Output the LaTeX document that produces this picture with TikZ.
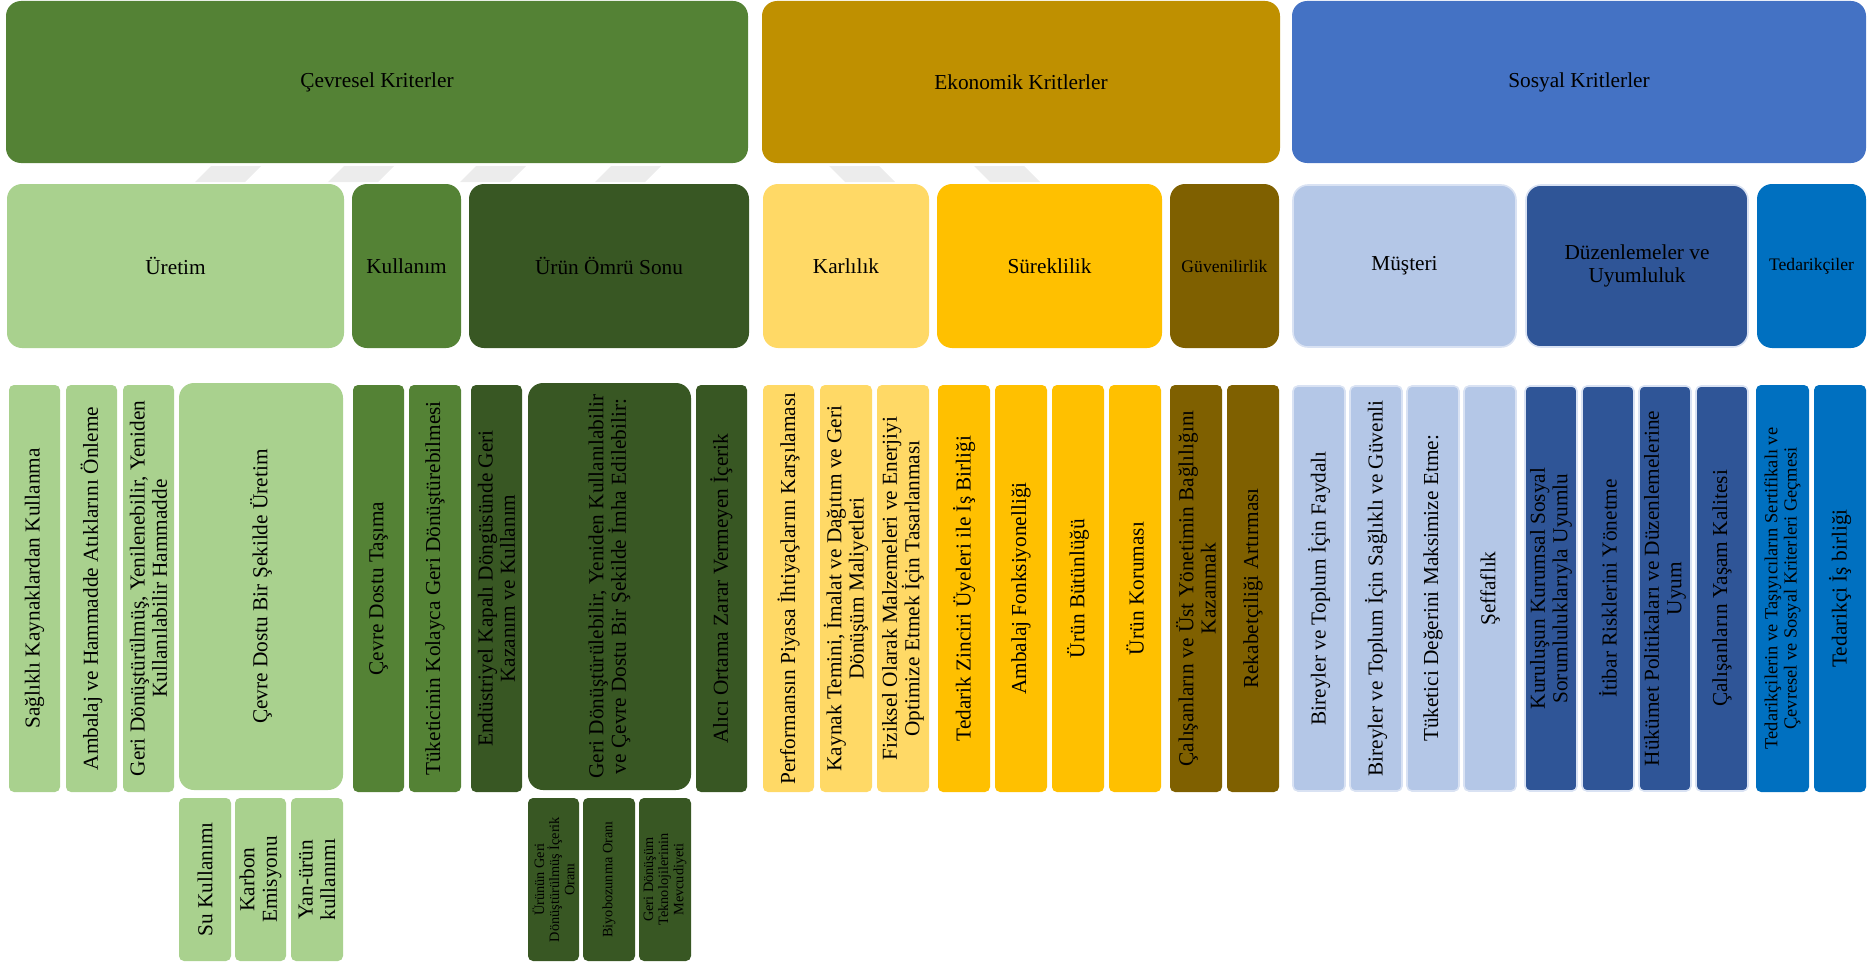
\documentclass[tikz,border=0pt]{standalone}
\usepackage{fontspec}
\setmainfont{Liberation Serif}

% palette
\definecolor{gMid}{HTML}{548235}
\definecolor{gLight}{HTML}{A9D18E}
\definecolor{gDark}{HTML}{385723}
\definecolor{yTop}{HTML}{BF9000}
\definecolor{yLight}{HTML}{FFD966}
\definecolor{yMid}{HTML}{FFC000}
\definecolor{yDark}{HTML}{7F6000}
\definecolor{bTop}{HTML}{4472C4}
\definecolor{bLight}{HTML}{B4C7E7}
\definecolor{bDark}{HTML}{2F5597}
\definecolor{bMid}{HTML}{0070C0}
\definecolor{bEdge}{HTML}{D9E2F3}
\definecolor{wmGray}{HTML}{ECECEC}

\tikzset{
  box/.style={rectangle, inner sep=0pt, outer sep=0pt},
  bigbox/.style={box, rounded corners=15pt},
  colbox/.style={box, rounded corners=5pt},
  edged/.style={draw=bEdge, line width=1.6pt},
  lbl/.style={inner sep=0pt, align=center, text=black,
              font={\fontsize{21.3}{22.4}\selectfont}},
  vlbl/.style={lbl, rotate=90},
  midlbl/.style={lbl, font={\fontsize{17.6}{19}\selectfont}},
  vmidlbl/.style={lbl, rotate=90, font={\fontsize{18.4}{19.4}\selectfont}},
  vsmall/.style={lbl, rotate=90, font={\fontsize{14.3}{15.2}\selectfont}},
  wm/.style={fill=wmGray},
}

% name, x1, y1, x2, y2, box style, label style, text
\newcommand\blk[8]{%
  \node[#6, minimum width={(#4)-(#2)}, minimum height={(#5)-(#3)}]
    (#1) at ({((#2)+(#4))/2},{((#3)+(#5))/2}) {};
  \node[#7] (#1-t) at (#1.center) {#8};
}

\begin{document}
\begin{tikzpicture}[x=1pt, y=-1pt]
\useasboundingbox (0,0) rectangle (1868,963);

% faint background stripes seen between the first two rows
\fill[wm] (195,182) -- (245,182) -- (261,166) -- (211,166) -- cycle;
\fill[wm] (328,182) -- (378,182) -- (394,166) -- (344,166) -- cycle;
\fill[wm] (460,182) -- (510,182) -- (526,166) -- (476,166) -- cycle;
\fill[wm] (595,182) -- (645,182) -- (661,166) -- (611,166) -- cycle;
\fill[wm] (829,166) -- (879,166) -- (895,182) -- (845,182) -- cycle;
\fill[wm] (974,166) -- (1024,166) -- (1040,182) -- (990,182) -- cycle;

% ---------- top level ----------
\blk{cev}{6}{1}{748}{163}{bigbox, fill=gMid}{lbl}{Çevresel Kriterler}
\blk{eko}{762}{1}{1280}{163}{bigbox, fill=yTop}{lbl}{Ekonomik Kritlerler}
\blk{sos}{1292}{1}{1866}{163}{bigbox, fill=bTop}{lbl}{Sosyal Kritlerler}

% ---------- second level ----------
\blk{uret}{7}{184}{344}{348}{bigbox, fill=gLight}{lbl}{Üretim}
\blk{kull}{352}{184}{461}{348}{bigbox, fill=gMid}{lbl}{Kullanım}
\blk{omur}{469}{184}{749}{348}{bigbox, fill=gDark}{lbl}{Ürün Ömrü Sonu}
\blk{karl}{763}{184}{929}{348}{bigbox, fill=yLight}{lbl}{Karlılık}
\blk{surek}{937}{184}{1162}{348}{bigbox, fill=yMid}{lbl}{Süreklilik}
\blk{guven}{1170}{184}{1279}{348}{bigbox, fill=yDark}{midlbl}{Güvenilirlik}
\blk{must}{1293}{185}{1516}{347}{bigbox, fill=bLight, edged}{lbl}{Müşteri}
\blk{duzen}{1526}{185}{1748}{347}{bigbox, fill=bDark, edged}{lbl}{Düzenlemeler ve\\Uyumluluk}
\blk{tedar}{1757}{184}{1866}{348}{bigbox, fill=bMid}{midlbl}{Tedarikçiler}

% ---------- third level: environmental ----------
\blk{c1}{9}{385}{60}{792}{colbox, fill=gLight}{vlbl}{Sağlıklı Kaynaklardan Kullanma}
\blk{c2}{66}{385}{117}{792}{colbox, fill=gLight}{vlbl}{Ambalaj ve Hammadde Atıklarını Önleme}
\blk{c3}{123}{385}{174}{792}{colbox, fill=gLight}{vlbl}{Geri Dönüştürülmüş, Yenilenebilir, Yeniden\\Kullanılabilir Hammadde}
\blk{c4}{179}{383}{343}{790}{bigbox, fill=gLight}{vlbl}{Çevre Dostu Bir Şekilde Üretim}
\blk{c5}{353}{385}{404}{792}{colbox, fill=gMid}{vlbl}{Çevre Dostu Taşıma}
\blk{c6}{409}{385}{461}{792}{colbox, fill=gMid}{vlbl}{Tüketicinin Kolayca Geri Dönüştürebilmesi}
\blk{c7}{471}{385}{522}{792}{colbox, fill=gDark}{vlbl}{Endüstriyel Kapalı Döngüsünde Geri\\Kazanım ve Kullanım}
\blk{c8}{528}{383}{691}{790}{bigbox, fill=gDark}{vlbl}{Geri Dönüştürülebilir, Yeniden Kullanılabilir\\ve Çevre Dostu Bir Şekilde İmha Edilebilir:}
\blk{c9}{696}{385}{747}{792}{colbox, fill=gDark}{vlbl}{Alıcı Ortama Zarar Vermeyen İçerik}

% fourth level
\blk{s1}{179}{798}{231}{961}{colbox, fill=gLight}{vlbl}{Su Kullanımı}
\blk{s2}{235}{798}{286}{961}{colbox, fill=gLight}{vlbl}{Karbon\\Emisyonu}
\blk{s3}{291}{798}{343}{961}{colbox, fill=gLight}{vlbl}{Yan-ürün\\kullanımı}
\blk{s4}{528}{798}{579}{961}{colbox, fill=gDark}{vsmall}{Ürünün Geri\\Dönüştürülmüş İçerik\\Oranı}
\blk{s5}{583}{798}{635}{961}{colbox, fill=gDark}{vsmall}{Biyobozunma Oranı}
\blk{s6}{639}{798}{691}{961}{colbox, fill=gDark}{vsmall}{Geri Dönüşüm\\Teknolojilerinin\\Mevcudiyeti}

% ---------- third level: economic ----------
\blk{e1}{763}{385}{814}{792}{colbox, fill=yLight}{vlbl}{Performansın Piyasa İhtiyaçlarını Karşılaması}
\blk{e2}{820}{385}{872}{792}{colbox, fill=yLight}{vlbl}{Kaynak Temini, İmalat ve Dağıtım ve Geri\\Dönüşüm Maliyetleri}
\blk{e3}{877}{385}{929}{792}{colbox, fill=yLight}{vlbl}{Fiziksel Olarak Malzemeleri ve Enerjiyi\\Optimize Etmek İçin Tasarlanması}
\blk{e4}{938}{385}{990}{792}{colbox, fill=yMid}{vlbl}{Tedarik Zinciri Üyeleri ile İş Birliği}
\blk{e5}{995}{385}{1047}{792}{colbox, fill=yMid}{vlbl}{Ambalaj Fonksiyonelliği}
\blk{e6}{1052}{385}{1104}{792}{colbox, fill=yMid}{vlbl}{Ürün Bütünlüğü}
\blk{e7}{1109}{385}{1161}{792}{colbox, fill=yMid}{vlbl}{Ürün Koruması}
\blk{e8}{1170}{385}{1222}{792}{colbox, fill=yDark}{vlbl}{Çalışanların ve Üst Yönetimin Bağlılığını\\Kazanmak}
\blk{e9}{1227}{385}{1279}{792}{colbox, fill=yDark}{vlbl}{Rekabetçiliği Artırması}

% ---------- third level: social ----------
\blk{o1}{1293}{386}{1345}{791}{colbox, fill=bLight, edged}{vlbl}{Bireyler ve Toplum İçin Faydalı}
\blk{o2}{1350}{386}{1402}{791}{colbox, fill=bLight, edged}{vlbl}{Bireyler ve Toplum İçin Sağlıklı ve Güvenli}
\blk{o3}{1407}{386}{1459}{791}{colbox, fill=bLight, edged}{vlbl}{Tüketici Değerini Maksimize Etme:}
\blk{o4}{1464}{386}{1516}{791}{colbox, fill=bLight, edged}{vlbl}{Şeffaflık}
\blk{o5}{1525}{386}{1577}{791}{colbox, fill=bDark, edged}{vlbl}{Kuruluşun Kurumsal Sosyal\\Sorumluluklarıyla Uyumlu}
\blk{o6}{1582}{386}{1634}{791}{colbox, fill=bDark, edged}{vlbl}{İtibar Risklerini Yönetme}
\blk{o7}{1639}{386}{1691}{791}{colbox, fill=bDark, edged}{vlbl}{Hükümet Politikaları ve Düzenlemelerine\\Uyum}
\blk{o8}{1696}{386}{1748}{791}{colbox, fill=bDark, edged}{vlbl}{Çalışanların Yaşam Kalitesi}
\blk{o9}{1756}{385}{1809}{792}{colbox, fill=bMid}{vmidlbl}{Tedarikçilerin ve Taşıyıcıların Sertifikalı ve\\Çevresel ve Sosyal Kriterleri Geçmesi}
\blk{o10}{1814}{385}{1866}{792}{colbox, fill=bMid}{vlbl}{Tedarikçi İş birliği}
\end{tikzpicture}
\end{document}
